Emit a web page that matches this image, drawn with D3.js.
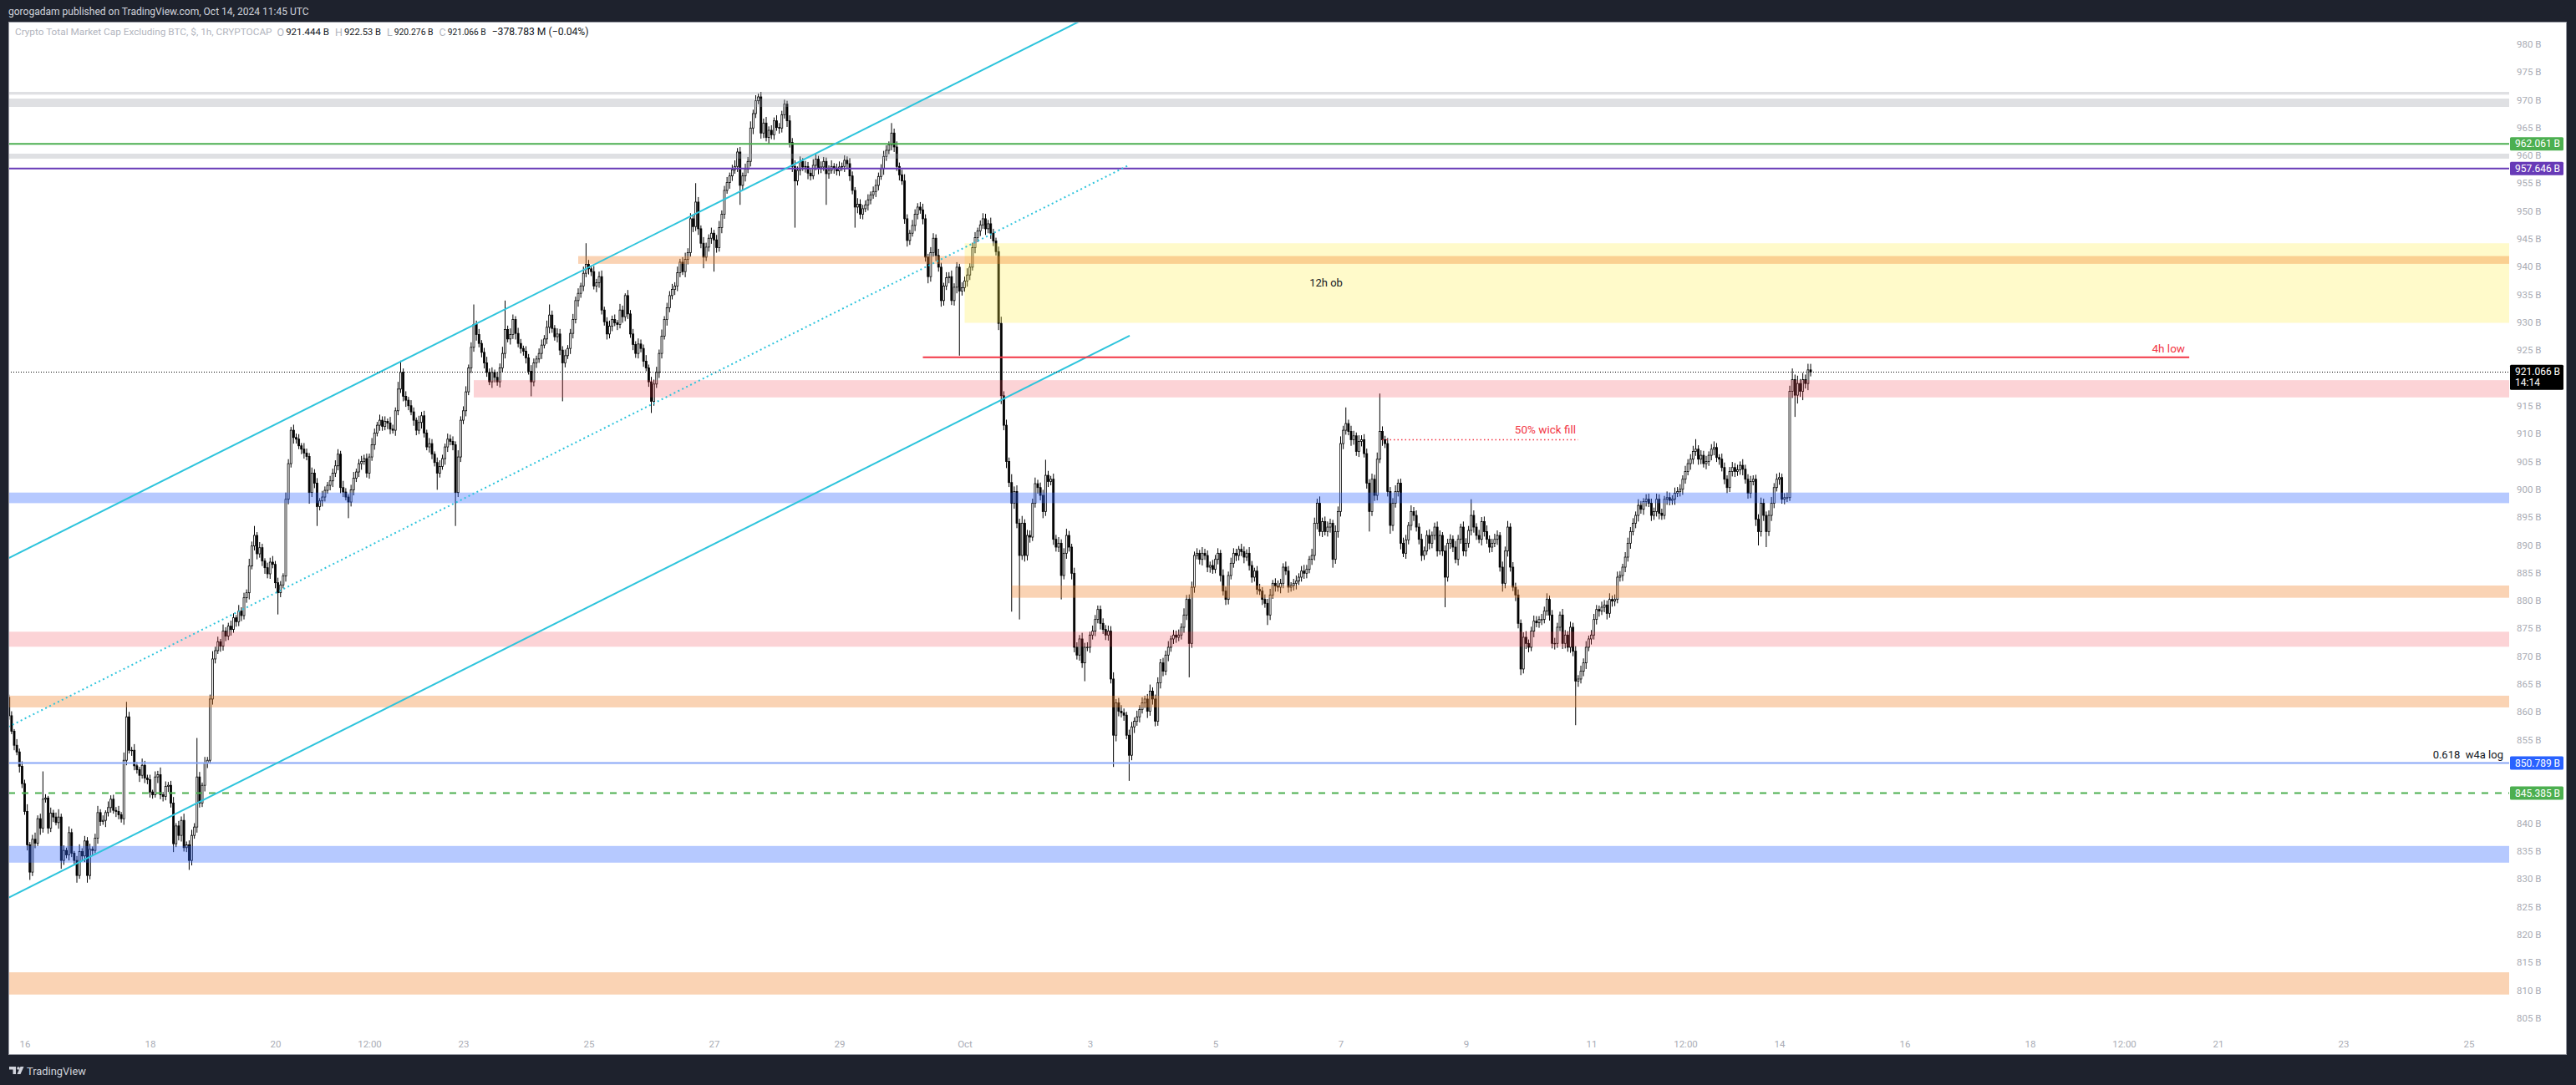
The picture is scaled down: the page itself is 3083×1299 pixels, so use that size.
<!DOCTYPE html>
<html><head><meta charset="utf-8">
<script src="https://cdn.jsdelivr.net/npm/d3@7"></script>
<style>
html,body{margin:0;padding:0;background:#1e222d;}
svg{display:block;}
text{font-family:Roboto,"Noto Sans",sans-serif;}
</style></head><body>
<svg id="chart" width="3083" height="1299"></svg>
<script>
// ---------------- DATA ----------------
const candleStart = "2024-09-15T18:00:00Z"; // first hourly candle
const firstOpen = 862.6;
const closes = [
859.3,856.5,854.0,852.8,850.2,847.1,842.1,836.1,831.2,837.1,
836.4,840.8,839.1,844.3,844.5,839.1,841.8,841.1,840.1,841.1,
833.3,835.1,834.3,838.3,834.6,833.3,830.6,834.9,834.1,836.8,
830.6,835.3,835.1,837.3,841.9,840.3,840.5,841.9,842.8,844.3,
842.3,842.1,841.5,840.8,851.3,859.1,853.1,853.1,850.3,849.6,
848.6,850.4,848.1,847.8,845.6,845.1,848.3,848.7,845.1,844.8,
846.6,846.8,843.6,836.3,839.5,837.8,840.5,835.6,836.1,833.3,
837.8,839.3,848.3,843.6,846.8,850.8,851.3,862.3,869.5,871.0,
872.6,871.8,874.5,873.6,875.4,874.8,876.9,876.2,878.1,877.3,
880.5,881.4,886.2,889.8,891.7,888.4,889.5,887.1,885.9,884.8,
886.9,886.5,883.2,881.4,882.8,884.4,898.2,904.6,910.6,909.3,
909.0,907.8,907.2,906.5,905.9,899.4,902.9,901.1,896.9,897.9,
898.6,899.8,900.7,901.5,902.9,904.2,906.3,900.3,899.5,898.6,
897.7,899.9,902.0,903.1,904.6,905.0,905.5,902.9,905.8,908.0,
910.1,911.5,912.4,911.3,912.2,911.9,910.8,910.6,914.1,918.0,
921.0,916.7,916.0,915.0,913.9,912.4,910.6,912.0,913.2,910.1,
907.6,908.2,906.3,904.8,902.9,904.1,905.5,907.6,909.0,908.6,
908.0,899.4,905.8,912.4,914.1,917.5,921.8,925.5,929.6,927.8,
926.2,924.6,922.7,921.0,919.3,921.0,920.1,919.3,921.8,924.4,
928.7,927.0,927.8,930.5,928.0,926.2,925.3,924.8,923.6,921.2,
919.3,922.7,923.4,924.4,925.9,927.0,929.1,931.3,928.9,927.4,
927.9,925.0,922.7,924.0,925.3,928.0,930.5,933.9,935.2,936.5,
938.8,940.4,939.6,939.1,936.5,937.1,938.2,932.2,930.1,927.9,
929.3,930.5,929.9,929.6,932.2,931.0,934.8,931.5,927.9,926.0,
924.4,926.1,925.3,923.0,921.8,919.3,915.8,918.9,921.0,924.4,
927.5,930.5,932.6,934.8,935.9,936.5,938.9,940.8,939.1,941.3,
942.5,948.6,947.2,951.6,946.8,944.2,941.7,943.5,945.1,946.0,
944.8,943.4,947.0,949.4,953.7,955.1,956.3,957.4,958.0,960.6,
954.6,956.3,957.5,958.9,964.9,967.5,969.8,970.5,964.0,965.8,
963.2,964.5,963.7,966.2,965.0,964.9,967.3,969.2,966.2,962.3,
958.0,955.4,957.3,958.9,957.9,958.0,956.8,956.3,958.2,959.3,
957.6,957.9,958.9,956.7,957.3,958.0,957.7,957.2,957.9,958.0,
959.1,958.5,956.3,953.7,950.7,951.2,949.4,950.4,951.1,952.0,
952.9,953.5,954.6,956.2,957.6,959.8,960.9,961.9,964.0,961.5,
958.0,956.5,955.4,948.6,944.7,946.0,947.4,949.4,950.7,950.2,
948.6,941.7,938.2,942.5,945.1,942.0,939.9,933.9,936.5,938.0,
938.2,933.9,936.3,939.9,935.6,936.2,937.4,938.5,939.9,943.4,
945.2,946.4,947.5,948.6,946.8,947.7,946.0,944.6,942.7,929.8,
916.8,911.5,905.0,901.2,897.5,899.6,893.9,888.1,893.9,888.1,
891.7,891.4,897.5,901.0,900.3,898.9,896.0,902.5,901.4,901.8,
891.0,889.6,890.3,884.5,888.5,891.7,889.6,884.9,871.6,870.2,
873.1,868.8,871.6,871.6,873.8,874.5,876.6,878.4,875.9,874.8,
873.8,874.5,865.9,855.8,861.6,860.1,859.8,859.4,855.8,852.2,
857.3,858.3,859.1,860.4,861.6,862.3,860.1,863.7,862.3,858.3,
865.2,868.8,867.3,870.2,871.6,873.1,873.8,873.4,873.8,875.2,
877.4,880.2,872.3,882.4,888.1,888.5,887.4,888.5,888.1,886.0,
886.3,885.6,887.4,888.5,884.5,881.7,880.2,884.5,886.7,888.5,
888.1,889.2,888.8,887.8,888.5,886.3,884.2,885.3,882.0,881.7,
880.2,879.5,877.4,881.0,883.1,882.6,882.4,883.1,886.0,885.3,
882.4,882.7,883.1,883.5,884.2,885.3,884.9,885.6,887.4,888.1,
893.9,897.5,892.4,894.2,892.4,893.2,893.9,887.4,892.4,896.0,
908.2,910.6,911.8,910.4,908.9,909.6,906.8,908.6,908.9,906.4,
901.1,896.0,901.8,898.9,905.4,910.4,908.9,908.2,899.6,893.5,
897.5,899.6,901.1,890.3,888.5,890.9,893.5,896.0,895.3,893.2,
891.0,888.1,888.9,891.7,890.3,891.7,893.2,888.9,891.7,888.9,
884.2,890.3,891.0,889.6,887.4,891.0,893.2,888.9,890.3,892.6,
895.3,893.2,891.7,891.0,894.2,892.4,891.0,889.6,890.3,891.0,
891.7,886.0,883.1,888.9,893.2,886.0,882.4,881.0,875.9,867.7,
873.4,872.3,871.6,874.5,876.3,876.0,876.6,876.6,878.1,880.2,
877.4,872.3,872.3,875.2,877.4,872.3,873.8,871.6,875.2,870.9,
865.5,865.9,867.3,868.8,871.6,873.1,873.8,876.6,878.4,878.1,
878.8,879.2,877.7,880.2,879.9,880.2,884.2,884.5,886.0,887.8,
890.3,892.4,893.9,895.3,897.1,896.4,897.8,898.2,897.5,895.3,
896.0,898.2,895.7,895.3,898.2,898.5,898.0,898.2,899.3,899.6,
900.0,901.8,903.2,904.6,905.4,906.8,907.2,905.4,906.1,904.6,
905.0,906.1,907.2,907.5,905.7,905.4,903.9,901.8,900.3,903.2,
903.9,903.2,903.5,904.3,903.6,901.8,899.3,901.4,901.8,894.6,
892.4,897.5,895.3,892.4,895.3,897.5,900.3,901.8,902.1,898.2,
898.5,898.5,917.6,919.7,916.9,919.0,917.6,919.7,919.0,921.444,921.066
];
// wick length above max(open,close) and below min(open,close), in B
const upperWick = [
0.5,0.8,0.4,1.1,0.6,0.9,0.7,1.3,0.5,0.8,1.2,0.6,0.9,5.0,0.7,0.4,1.0,0.6,0.8,1.4,
0.6,0.9,0.5,1.1,0.7,0.4,0.8,1.3,0.6,0.9,0.7,1.0,0.5,0.8,1.2,0.6,0.9,0.4,1.1,0.7,
0.8,0.6,1.0,0.5,1.4,2.7,0.9,0.6,1.1,0.7,0.5,1.2,0.8,0.6,0.9,0.4,1.0,0.7,1.3,0.5,
0.9,0.6,0.8,1.1,0.5,0.9,0.7,1.2,0.6,0.8,1.0,0.7,7.0,0.9,0.5,1.1,0.6,0.8,1.4,0.7,
0.9,0.5,1.2,0.7,0.6,1.0,0.8,0.5,1.1,0.7,0.9,0.6,1.3,0.8,1.7,0.6,1.0,0.7,0.5,0.9,
0.8,1.1,0.6,0.9,0.7,0.5,1.2,0.8,0.6,1.0,0.7,0.9,0.5,1.1,0.8,0.6,1.0,0.7,0.9,0.5,
1.1,0.7,0.6,0.9,0.8,1.0,0.9,0.6,1.2,0.7,0.5,0.9,1.1,0.6,0.8,1.0,0.7,0.9,0.6,1.2,
0.8,0.6,1.0,0.7,0.9,0.5,1.1,0.8,0.6,1.3,2.1,0.7,0.9,0.6,1.0,0.8,0.5,1.2,0.7,0.9,
0.6,1.0,0.8,0.5,0.9,1.1,0.7,0.6,1.0,0.8,0.9,0.6,1.2,0.7,0.8,1.0,0.6,0.9,3.6,0.7,
1.0,0.6,0.8,1.1,0.7,0.9,0.5,1.0,0.8,1.2,5.2,0.7,1.1,0.9,0.6,1.0,0.8,0.5,0.9,0.7,
1.1,0.8,0.6,0.9,1.0,0.7,1.2,1.9,0.8,0.6,1.0,0.9,0.7,1.1,0.6,0.8,1.0,0.7,0.9,0.6,
1.2,3.8,0.8,0.6,1.0,0.7,0.9,1.1,0.6,0.8,1.0,0.7,0.9,0.5,1.1,0.8,0.4,1.0,0.7,0.9,
0.6,1.0,0.8,0.7,1.1,0.6,0.9,0.8,1.0,0.7,1.2,0.6,0.9,0.8,1.0,0.7,1.1,0.6,0.9,1.2,
0.8,1.0,0.7,3.4,0.9,0.6,1.1,0.8,0.7,1.0,0.6,0.9,1.2,0.7,0.8,1.0,0.6,0.9,1.1,0.7,
0.9,0.6,1.0,0.8,1.2,0.7,1.0,0.6,0.9,0.8,1.1,0.7,0.9,0.6,1.0,0.8,0.7,0.8,0.6,1.0,
0.8,1.1,0.7,0.9,0.6,1.0,0.8,0.7,1.1,0.9,0.6,1.0,0.8,0.7,0.9,1.1,0.6,0.8,1.0,0.7,
0.9,0.7,1.0,0.8,0.6,1.1,0.9,0.7,0.8,1.0,0.6,0.9,1.1,0.7,0.8,1.0,0.9,0.6,1.8,0.8,
1.0,0.7,0.9,1.2,0.8,0.6,1.0,0.9,0.7,0.9,1.1,0.8,0.6,1.0,0.9,0.7,1.2,0.8,0.6,1.0,
0.8,1.1,0.7,0.9,0.6,1.0,0.8,1.2,0.7,0.9,1.0,0.6,0.8,1.0,0.9,0.7,1.1,0.8,0.6,0.9,
1.2,0.8,1.0,0.7,1.5,0.9,1.1,0.8,1.3,0.7,1.0,0.9,0.8,1.1,0.7,0.9,1.0,2.8,0.8,0.6,
1.0,0.8,1.1,0.7,0.9,1.2,0.8,0.6,1.0,0.9,0.7,1.1,0.8,0.9,0.6,1.0,0.8,0.7,0.7,0.9,
0.8,1.0,0.9,1.2,0.7,0.9,1.1,0.8,0.6,1.0,0.9,0.7,1.1,0.8,1.0,0.6,0.9,1.2,0.7,0.8,
1.0,0.7,0.9,0.8,1.1,0.6,0.9,0.8,1.0,0.7,1.2,0.8,0.9,1.0,0.7,0.9,0.6,1.1,0.8,0.9,
0.7,1.0,0.8,0.9,0.6,1.1,0.8,0.7,1.0,0.9,0.8,0.6,1.0,0.9,0.7,1.1,0.8,0.6,0.9,1.0,
0.7,0.9,0.8,1.1,0.6,0.9,1.0,0.8,0.7,1.0,0.9,0.6,0.8,1.0,0.7,0.9,1.1,0.8,0.6,1.2,
1.0,0.8,1.2,0.7,0.9,1.0,0.8,0.6,1.1,0.9,1.3,0.8,2.9,0.7,1.0,0.9,0.6,1.1,0.8,1.0,
0.9,0.7,1.0,0.8,1.2,6.8,0.9,0.7,1.0,0.8,0.9,1.1,0.7,0.8,1.0,0.9,0.6,1.1,0.8,0.9,
0.7,1.0,0.8,0.9,1.1,0.7,0.8,1.0,0.9,0.6,1.0,0.8,0.9,0.7,1.1,0.8,0.6,1.0,0.9,0.8,
2.9,0.9,0.7,1.0,0.8,0.9,1.1,0.7,0.8,1.0,0.9,0.6,1.0,0.8,1.1,0.7,0.9,0.8,1.0,0.7,
0.9,1.1,0.7,0.8,1.0,0.9,0.6,1.0,0.8,1.1,0.7,0.9,1.0,0.8,0.6,1.1,0.9,0.7,1.0,0.8,
0.9,0.7,1.0,0.8,1.1,0.6,0.9,1.0,0.8,0.7,1.0,0.9,0.8,1.1,0.7,0.9,1.0,0.8,0.6,0.9,
1.0,0.8,0.9,0.7,1.1,0.8,0.6,0.9,1.0,0.8,0.7,1.0,0.9,0.8,0.6,1.1,0.9,0.7,1.0,0.8,
0.9,0.7,1.0,0.8,0.9,1.0,1.8,0.7,0.9,0.8,1.0,0.7,0.9,1.1,0.8,0.6,1.0,0.9,0.7,0.8,
1.0,0.8,0.9,0.7,1.1,0.8,0.9,1.0,0.7,0.8,0.9,1.0,0.8,0.7,0.9,1.1,0.8,1.0,0.9,0.7,
0.8,0.9,1.0,2.0,0.9,1.4,0.8,1.2,0.9,1.1,1.086
];
const lowerWick = [
0.7,0.5,0.9,0.6,1.1,0.8,0.6,1.0,1.4,0.7,0.9,0.5,1.2,0.8,0.6,1.0,0.7,0.9,0.5,1.1,
1.5,0.8,0.6,1.0,0.7,0.9,1.3,0.6,0.8,1.1,1.3,0.7,0.9,0.5,1.0,0.8,0.6,1.2,0.7,0.9,
0.6,1.0,0.8,0.7,1.1,0.9,0.6,1.0,0.8,0.7,1.2,0.6,0.9,0.8,1.0,0.7,0.5,1.1,0.8,0.9,
0.7,1.0,0.8,1.5,0.6,0.9,1.1,0.7,0.8,1.7,0.9,0.6,1.0,0.8,0.7,1.1,0.9,0.6,1.0,0.8,
0.6,1.0,0.8,0.9,0.7,1.1,0.6,0.9,0.8,1.0,0.7,0.9,1.2,0.6,0.8,1.0,0.7,0.9,1.1,0.8,
0.9,0.7,1.0,3.9,0.8,0.6,1.0,0.9,0.7,1.1,0.8,0.6,0.9,1.0,0.7,2.0,0.8,0.9,3.5,0.7,
1.0,0.8,0.6,0.9,1.1,0.7,0.8,1.0,0.9,0.6,2.9,0.8,1.0,0.7,0.9,1.1,0.6,0.8,1.0,0.7,
0.9,0.6,1.0,0.8,0.7,1.1,0.9,0.6,1.0,0.8,0.7,0.9,1.2,0.8,0.6,1.0,0.9,0.7,1.1,0.8,
0.6,1.0,0.9,0.7,3.0,0.8,0.6,1.1,0.9,0.7,1.0,6.0,0.8,0.9,0.7,1.0,0.6,0.9,0.8,1.1,
0.7,0.9,1.0,0.8,0.6,1.1,0.9,0.7,1.0,0.8,0.9,0.6,1.0,0.8,1.1,0.7,0.9,0.8,1.0,0.6,
2.6,0.8,0.9,0.7,1.0,0.6,0.9,1.1,0.8,0.7,1.0,0.9,6.9,0.8,0.6,1.0,0.9,0.7,1.1,0.8,
0.9,0.7,1.0,0.8,0.6,1.1,0.9,0.8,0.7,1.0,0.8,0.9,0.6,1.0,0.7,1.1,0.8,0.9,0.7,1.0,
0.8,0.9,0.7,1.0,0.6,0.9,2.1,0.8,0.7,1.0,0.9,0.6,1.1,0.8,0.7,1.0,0.9,0.8,0.6,1.0,
0.9,0.7,1.0,0.8,1.1,0.9,2.0,0.7,0.8,1.0,5.7,0.9,0.7,1.0,0.8,0.6,1.1,0.9,0.7,1.0,
3.5,0.8,1.0,0.7,0.9,1.1,0.8,0.6,1.0,0.9,0.7,1.1,0.8,0.9,0.6,1.0,0.8,0.7,1.1,0.9,
1.0,8.4,0.8,0.9,0.7,1.0,1.1,0.8,0.6,0.9,1.0,0.8,0.7,5.6,0.9,0.6,1.0,0.8,0.9,0.7,
1.0,0.8,0.9,0.7,3.7,1.1,0.8,0.9,0.6,1.0,0.8,0.7,1.0,0.9,0.6,1.1,0.8,0.7,1.0,0.9,
0.8,1.0,0.7,0.9,1.1,0.8,0.6,1.0,0.9,0.7,1.0,0.8,1.2,0.9,0.7,1.0,0.8,1.1,0.9,0.7,
1.0,0.8,0.9,1.1,11.6,0.8,0.7,1.0,0.9,0.6,1.0,0.8,0.9,0.7,1.1,0.8,1.0,0.9,0.7,1.2,
1.5,0.9,1.2,0.8,19.5,1.0,0.9,11.5,0.8,1.1,0.9,1.0,0.7,0.8,1.1,0.9,1.2,0.8,1.0,0.7,
1.0,0.8,0.9,4.3,0.7,1.0,0.8,1.1,0.9,0.8,1.0,0.9,3.3,0.7,1.0,0.8,0.9,0.7,1.1,0.8,
0.9,1.0,0.8,5.7,1.1,0.9,0.8,1.0,0.7,4.6,0.9,1.1,0.8,1.0,0.7,0.9,1.2,0.8,1.0,0.9,
0.8,1.0,0.9,0.7,1.1,0.8,0.9,1.0,0.7,0.8,1.0,0.9,6.1,0.8,1.0,0.7,0.9,1.1,0.8,0.9,
1.0,0.8,0.7,0.9,1.1,0.8,1.0,0.9,0.7,0.8,1.0,0.9,0.8,1.1,0.7,0.9,1.0,0.8,0.9,0.7,
1.0,0.8,1.8,0.9,0.7,1.0,0.8,1.1,0.9,0.7,1.0,0.8,0.9,1.1,0.7,0.8,1.0,0.9,0.7,1.0,
0.9,1.1,0.8,1.0,0.7,0.9,1.0,1.5,0.8,1.1,0.9,1.0,0.8,0.7,1.1,0.9,0.8,1.0,0.9,0.7,
1.0,3.6,0.8,1.0,0.9,0.7,1.1,0.8,0.9,1.5,1.0,0.8,0.9,1.1,0.7,1.0,0.8,0.9,1.0,0.8,
0.9,1.0,0.8,0.7,1.1,0.9,0.8,1.0,0.7,0.9,5.4,0.8,1.0,0.9,0.7,1.1,0.8,0.9,1.0,0.8,
0.9,1.0,0.8,0.7,1.1,0.9,0.8,1.0,0.9,0.7,1.0,0.8,1.5,0.9,1.0,0.8,0.7,1.1,0.9,1.1,
0.8,1.0,0.9,0.7,1.1,0.8,0.9,1.0,0.7,0.8,1.0,0.9,1.1,0.8,0.7,1.0,0.9,0.8,1.0,0.9,
7.9,1.0,0.8,0.9,1.1,0.7,1.0,0.8,0.9,1.0,0.7,0.9,1.1,0.8,1.0,0.9,0.7,0.8,1.0,0.9,
0.8,1.0,0.7,0.9,1.1,0.8,1.0,0.9,0.7,1.0,0.8,0.9,1.1,0.8,0.7,1.0,0.9,0.8,1.0,0.7,
0.9,1.0,0.8,0.7,1.1,0.9,0.8,1.0,0.9,0.7,1.0,0.8,0.9,1.1,0.8,1.0,0.7,0.9,1.0,0.8,
0.9,1.0,0.8,0.9,1.1,0.8,1.0,0.9,0.7,1.2,2.5,0.9,1.0,2.8,0.8,1.0,0.9,0.7,1.0,0.8,
0.9,0.8,0.6,1.2,3.9,1.5,1.0,1.6,0.9,1.2,0.79
];

const priceTicks = [805,810,815,820,825,830,835,840,845,850,855,860,865,870,875,880,885,890,895,900,905,910,915,920,925,930,935,940,945,950,955,960,965,970,975,980];
const timeTickDates = ["2024-09-16T00:00:00Z","2024-09-18T00:00:00Z","2024-09-20T00:00:00Z","2024-09-21T12:00:00Z","2024-09-23T00:00:00Z","2024-09-25T00:00:00Z","2024-09-27T00:00:00Z","2024-09-29T00:00:00Z","2024-10-01T00:00:00Z","2024-10-03T00:00:00Z","2024-10-05T00:00:00Z","2024-10-07T00:00:00Z","2024-10-09T00:00:00Z","2024-10-11T00:00:00Z","2024-10-12T12:00:00Z","2024-10-14T00:00:00Z","2024-10-16T00:00:00Z","2024-10-18T00:00:00Z","2024-10-19T12:00:00Z","2024-10-21T00:00:00Z","2024-10-23T00:00:00Z","2024-10-25T00:00:00Z"];
const timeTickLabels = ["16","18","20","12:00","23","25","27","29","Oct","3","5","7","9","11","12:00","14","16","18","12:00","21","23","25"];

// zones (price ranges); start null = from left edge of view
const zoneBottoms = [970.9, 968.7, 959.4, 929.9, 940.5, 916.5, 897.5, 880.5, 871.7, 860.8, 832.9, 809.2];
const zoneTops    = [971.4, 970.2, 960.3, 944.2, 941.9, 919.6, 899.4, 882.7, 874.4, 862.9, 835.9, 813.2];
const zoneStarts  = [null, null, null, "2024-10-01T00:00:00Z", "2024-09-24T20:00:00Z", "2024-09-23T04:00:00Z", null, "2024-10-01T18:00:00Z", null, null, null, null];
const zoneKinds   = ["gray","gray","gray","yellow","orange","pink","blue","orange","pink","orange","blue","orange"];

// horizontal levels with axis labels
const levelValues = [962.061, 957.646, 850.789, 845.385];
const levelKinds  = ["green", "purple", "blue", "greenDash"];

// parallel channel (upper, median, lower)
const channelStart = "2024-09-15T17:45:00Z";
const channelEnd   = "2024-10-03T15:12:00Z";
const channelStartPrices = [887.6, 857.3, 826.6];
const channelEndPrices   = [988.6, 958.3, 927.6];

const fourHourLow = 923.7, fourHourLowStart = "2024-09-30T08:00:00Z", fourHourLowEnd = "2024-10-20T13:00:00Z";
const wickFill = 908.9, wickFillStart = "2024-10-07T16:00:00Z", wickFillEnd = "2024-10-10T19:00:00Z";
const lastPrice = 921.066, countdown = "14:14";
const legendName = "Crypto Total Market Cap Excluding BTC, $, 1h, CRYPTOCAP";
const legendKeys = ["O", "H", "L", "C"];
const legendVals = ["921.444 B", "922.53 B", "920.276 B", "921.066 B"];
const legendChg = "\u2212378.783 M (\u22120.04%)";

// ---------------- LAYOUT ----------------
const W = 3083, H = 1299;
const plotL = 10, plotR = 3003, plotT = 26, plotB = 1236, frameR = 3072, frameB = 1263;
const x = d3.scaleUtc().domain([new Date("2024-09-16T00:00:00Z"), new Date("2024-10-25T00:00:00Z")]).range([29.5, 2954.5]);
const y = d3.scaleLinear().domain([980, 805]).range([52.7, 1218.7]);

const svg = d3.select("#chart");
svg.append("rect").attr("width", W).attr("height", H).attr("fill", "#1e222d");
svg.append("rect").attr("x", plotL + 0.5).attr("y", plotT + 0.5).attr("width", frameR - plotL - 1).attr("height", frameB - plotT - 1)
  .attr("fill", "#ffffff").attr("stroke", "#9598a1").attr("stroke-width", 1);

const defs = svg.append("defs");
defs.append("clipPath").attr("id", "plotclip").append("rect")
  .attr("x", plotL + 1).attr("y", plotT + 1).attr("width", plotR - plotL - 1).attr("height", plotB - plotT);
const plot = svg.append("g").attr("clip-path", "url(#plotclip)");

// candles
const t0 = new Date(candleStart).getTime();
const candles = closes.map((c, i) => {
  const o = i === 0 ? firstOpen : closes[i - 1];
  return { t: new Date(t0 + i * 3600000), o, c, h: Math.max(o, c) + upperWick[i], l: Math.min(o, c) - lowerWick[i] };
});
const cg = plot.append("g");
cg.selectAll("line").data(candles).join("line")
  .attr("x1", d => x(d.t)).attr("x2", d => x(d.t))
  .attr("y1", d => y(d.h)).attr("y2", d => y(d.l))
  .attr("stroke", "#000").attr("stroke-width", 1);
const bodyW = 2.0;
cg.selectAll("rect").data(candles).join("rect")
  .attr("x", d => x(d.t) - bodyW / 2)
  .attr("y", d => y(Math.max(d.o, d.c)))
  .attr("width", bodyW)
  .attr("height", d => Math.max(0.6, Math.abs(y(d.o) - y(d.c))))
  .attr("fill", d => d.c >= d.o ? "#ffffff" : "#000000")
  .attr("stroke", "#000").attr("stroke-width", 0.8);

// zones
const zoneColor = {
  gray: "rgba(149,152,161,0.3)", yellow: "rgba(255,235,59,0.27)", orange: "rgba(242,130,40,0.35)",
  pink: "rgba(242,54,69,0.22)", blue: "rgba(41,98,255,0.34)"
};
const zones = zoneBottoms.map((b, i) => ({ b, t: zoneTops[i], s: zoneStarts[i], k: zoneKinds[i] }));
plot.append("g").selectAll("rect").data(zones).join("rect")
  .attr("x", d => d.s ? x(new Date(d.s)) : plotL)
  .attr("width", d => plotR - (d.s ? x(new Date(d.s)) : plotL))
  .attr("y", d => y(d.t)).attr("height", d => y(d.b) - y(d.t))
  .attr("fill", d => zoneColor[d.k]);

// levels
const levelColor = { green: "#4caf50", purple: "#673ab7", blue: "#89a8f7", greenDash: "#4caf50" };
const levelBox = { green: "#4caf50", purple: "#673ab7", blue: "#2962ff", greenDash: "#4caf50" };
const levels = levelValues.map((v, i) => ({ v, k: levelKinds[i] }));
plot.append("g").selectAll("line").data(levels).join("line")
  .attr("x1", plotL).attr("x2", plotR)
  .attr("y1", d => y(d.v)).attr("y2", d => y(d.v))
  .attr("stroke", d => levelColor[d.k]).attr("stroke-width", 2)
  .attr("stroke-dasharray", d => d.k === "greenDash" ? "8,8" : null);

// channel
const cs = new Date(channelStart), ce = new Date(channelEnd);
plot.append("g").selectAll("line").data(channelStartPrices).join("line")
  .attr("x1", x(cs)).attr("x2", x(ce))
  .attr("y1", d => y(d)).attr("y2", (d, i) => y(channelEndPrices[i]))
  .attr("stroke", "#2ec4dc").attr("stroke-width", 2)
  .attr("stroke-dasharray", (d, i) => i === 1 ? "2,3.5" : null);

// 4h low line
plot.append("line").attr("x1", x(new Date(fourHourLowStart))).attr("x2", x(new Date(fourHourLowEnd)))
  .attr("y1", y(fourHourLow)).attr("y2", y(fourHourLow)).attr("stroke", "#f23645").attr("stroke-width", 2);
// 50% wick fill
plot.append("line").attr("x1", x(new Date(wickFillStart))).attr("x2", x(new Date(wickFillEnd)))
  .attr("y1", y(wickFill)).attr("y2", y(wickFill)).attr("stroke", "#f23645").attr("stroke-width", 1.5)
  .attr("stroke-dasharray", "1.5,3");
// last price dotted line
plot.append("line").attr("x1", plotL).attr("x2", plotR)
  .attr("y1", Math.round(y(lastPrice)) + 0.5).attr("y2", Math.round(y(lastPrice)) + 0.5)
  .attr("stroke", "#000").attr("stroke-width", 1).attr("stroke-dasharray", "1,2");

// annotation texts
const ann = svg.append("g");
ann.append("text").attr("x", 1587).attr("y", 338).attr("text-anchor", "middle").attr("dominant-baseline", "central")
  .attr("font-size", 13).attr("fill", "#131722").text("12h ob");
ann.append("text").attr("x", 2615).attr("y", 417).attr("text-anchor", "end").attr("dominant-baseline", "central")
  .attr("font-size", 13.5).attr("fill", "#f23645").text("4h low");
ann.append("text").attr("x", 1886).attr("y", 514).attr("text-anchor", "end").attr("dominant-baseline", "central")
  .attr("font-size", 13.5).attr("fill", "#f23645").text("50% wick fill");
ann.append("text").attr("x", 2996).attr("y", 903).attr("text-anchor", "end").attr("dominant-baseline", "central")
  .attr("font-size", 13).attr("fill", "#131722").attr("xml:space", "preserve").style("white-space", "pre").text("0.618  w4a log");

// price axis (ticks that sit fully under a price label box are hidden, as on the original)
const boxCenters = levelValues.map(v => y(v)).concat([y(lastPrice) + 6]);
const visibleTicks = priceTicks.filter(v => boxCenters.every(c => Math.abs(y(v) - c) > 11));
const yAxis = svg.append("g").attr("transform", `translate(${plotR},0)`)
  .call(d3.axisRight(y).tickValues(visibleTicks).tickFormat(d => d + " B").tickSize(0).tickPadding(9));
yAxis.select(".domain").remove();
yAxis.selectAll("text").attr("fill", "#a9acb5").attr("font-size", 11.5).attr("font-family", "Roboto, sans-serif");

// time axis
const xAxis = svg.append("g").attr("transform", "translate(0,1250)")
  .call(d3.axisBottom(x).tickValues(timeTickDates.map(d => new Date(d))).tickFormat((d, i) => timeTickLabels[i]).tickSize(0).tickPadding(0));
xAxis.select(".domain").remove();
xAxis.selectAll("text").attr("y", 0).attr("dy", null).attr("dominant-baseline", "central")
  .attr("fill", "#a9acb5").attr("font-size", 11.5).attr("font-family", "Roboto, sans-serif");

// level labels on price axis
const lab = svg.append("g");
levels.forEach(d => {
  const yy = y(d.v);
  lab.append("rect").attr("x", 3004).attr("y", yy - 8).attr("width", 64).attr("height", 16).attr("rx", 1.5).attr("fill", levelBox[d.k]);
  lab.append("text").attr("x", 3010).attr("y", yy).attr("dominant-baseline", "central").attr("font-size", 12)
    .attr("fill", "#fff").text(d.v.toFixed(3) + " B");
});
const ly = y(lastPrice);
lab.append("rect").attr("x", 3004).attr("y", ly - 8.5).attr("width", 64).attr("height", 30).attr("rx", 1.5).attr("fill", "#000");
lab.append("text").attr("x", 3010).attr("y", ly).attr("dominant-baseline", "central").attr("font-size", 12).attr("fill", "#fff").text(lastPrice.toFixed(3) + " B");
lab.append("text").attr("x", 3010).attr("y", ly + 12.5).attr("dominant-baseline", "central").attr("font-size", 12).attr("fill", "#fff").text(countdown);

// helper: scale a text's font-size so its natural width equals a target width
function fitWidth(sel, target, base) {
  const w = sel.node().getComputedTextLength();
  if (w > 0) sel.attr("font-size", base * target / w);
  return sel;
}

// header
fitWidth(svg.append("text").attr("x", 10).attr("y", 14).attr("dominant-baseline", "central").attr("font-size", 12.5)
  .attr("fill", "#d1d4dc").text("gorogadam published on TradingView.com, Oct 14, 2024 11:45 UTC"), 360, 12.5);

// legend: separate texts laid out left to right with small gaps
const lg = svg.append("g");
let cx = 18;
function legendText(txt, col, target) {
  const t = lg.append("text").attr("x", cx).attr("y", 38).attr("dominant-baseline", "central")
    .attr("font-size", 12.5).attr("fill", col).text(txt);
  if (target) fitWidth(t, target, 12.5);
  cx += t.node().getComputedTextLength();
  return t;
}
legendText(legendName, "#b2b5be", 308); cx += 6;
const valWidths = [52, 44, 47, 46];
legendKeys.forEach((k, i) => {
  legendText(k, "#b2b5be", 0); cx += 2;
  legendText(legendVals[i], "#131722", valWidths[i]); cx += 7;
});
legendText(legendChg, "#131722", 116);

// footer logo
const ft = svg.append("g").attr("fill", "#d1d4dc");
ft.append("rect").attr("x", 11).attr("y", 1277).attr("width", 8).attr("height", 3.5);
ft.append("rect").attr("x", 15.5).attr("y", 1277).attr("width", 3.5).attr("height", 9);
ft.append("circle").attr("cx", 22).attr("cy", 1279).attr("r", 1.8);
ft.append("path").attr("d", "M24.5,1277 L28.5,1277 L24.5,1286 L20.5,1286 Z");
fitWidth(ft.append("text").attr("x", 32).attr("y", 1282).attr("dominant-baseline", "central").attr("font-size", 13)
  .text("TradingView"), 71, 13);
</script>
</body></html>
